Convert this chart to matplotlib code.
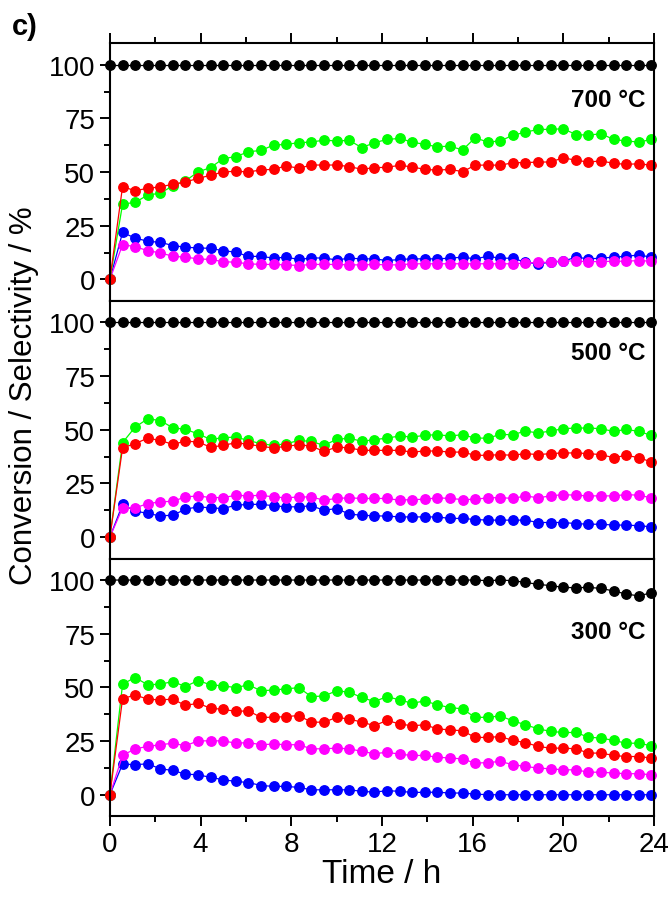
import numpy as np
import matplotlib
matplotlib.use('Agg')
import matplotlib.pyplot as plt
from matplotlib.ticker import MultipleLocator

plt.rcParams['font.family'] = ['Liberation Sans', 'DejaVu Sans']

# sampling times (h), one point every ~33 min
TIME = [0.0, 0.56, 1.11, 1.67, 2.22, 2.78, 3.33, 3.89, 4.44, 5.0, 5.56, 6.11,
        6.67, 7.22, 7.78, 8.33, 8.89, 9.44, 10.0, 10.56, 11.11, 11.67, 12.22,
        12.78, 13.33, 13.89, 14.44, 15.0, 15.56, 16.11, 16.67, 17.22, 17.78,
        18.33, 18.89, 19.44, 20.0, 20.56, 21.11, 21.67, 22.22, 22.78, 23.33, 23.89]

# 700 C
black_700 = [100, 100, 100, 100, 100, 100, 100, 100, 100, 100, 100, 100, 100, 100, 100,
             100, 100, 100, 100, 100, 100, 100, 100, 100, 100, 100, 100, 100, 100, 100,
             100, 100, 100, 100, 100, 100, 100, 100, 100, 100, 100, 100, 100, 100]
green_700 = [0, 35.1, 35.9, 39.3, 40.2, 43.6, 45.9, 50.1, 52.1, 56.3, 57.2, 59.5, 60.1,
             62.6, 62.9, 63.7, 64.0, 64.9, 64.5, 64.8, 61.4, 63.7, 65.2, 65.7, 64.0, 62.9,
             61.8, 62.1, 60.3, 66.0, 64.0, 64.5, 67.2, 68.6, 69.9, 69.9, 70.2, 67.5, 67.2,
             67.9, 65.2, 64.5, 64.0, 65.2]
red_700 = [0, 43.3, 41.3, 42.5, 43.1, 44.4, 45.4, 47.1, 48.5, 50.1, 50.4, 50.1, 51.0,
           51.3, 52.9, 51.8, 53.3, 53.3, 53.3, 52.6, 51.3, 52.1, 52.2, 53.2, 52.4, 51.3,
           50.9, 51.3, 50.2, 53.2, 53.3, 53.2, 54.4, 54.4, 54.7, 54.7, 56.7, 55.5, 54.7,
           55.2, 54.1, 53.6, 53.9, 53.2]
blue_700 = [0, 21.9, 19.3, 17.8, 17.3, 15.8, 15.0, 14.7, 14.5, 13.4, 12.7, 10.7, 10.8,
            9.9, 10.4, 9.3, 10.0, 10.0, 9.1, 9.9, 9.6, 9.6, 8.8, 9.3, 9.6, 9.6, 9.6, 9.9,
            10.4, 9.6, 10.8, 9.9, 9.9, 8.0, 7.3, 8.0, 8.5, 10.4, 9.6, 9.9, 10.4, 10.8,
            11.4, 10.4]
magenta_700 = [0, 16.2, 15.3, 13.4, 12.4, 10.8, 10.4, 9.6, 9.3, 8.3, 8.0, 7.3, 7.0, 7.0,
               6.8, 6.5, 7.0, 7.0, 7.0, 6.8, 6.8, 7.0, 6.8, 6.8, 7.3, 7.3, 7.3, 7.3, 7.3,
               7.3, 7.3, 7.3, 7.3, 7.6, 8.0, 8.0, 8.8, 8.5, 8.3, 8.3, 8.5, 8.5, 8.8, 8.5]

# 500 C
black_500 = [100, 100, 100, 100, 100, 100, 100, 100, 100, 100, 100, 100, 100, 100, 100,
             100, 100, 100, 100, 100, 100, 100, 100, 100, 100, 100, 100, 100, 100, 100,
             100, 100, 100, 100, 100, 100, 100, 100, 100, 100, 100, 100, 100, 100]
green_500 = [0, 44.0, 51.2, 55.1, 54.3, 50.9, 50.2, 48.1, 45.5, 46.3, 46.6, 45.0, 43.5,
             42.7, 43.5, 45.0, 44.6, 42.7, 45.5, 46.1, 44.6, 45.4, 46.1, 47.1, 46.6, 47.4,
             47.7, 47.1, 47.7, 46.1, 46.1, 47.8, 47.7, 49.4, 48.5, 49.4, 50.5, 50.8, 50.8,
             50.5, 49.2, 50.2, 49.2, 47.4]
red_500 = [0, 41.6, 43.5, 46.1, 45.0, 43.2, 44.7, 44.3, 41.9, 42.7, 44.0, 43.2, 42.3,
           41.5, 42.3, 43.0, 42.4, 39.9, 41.9, 41.6, 40.4, 40.4, 40.4, 40.4, 39.6, 40.1,
           40.1, 39.6, 39.6, 38.1, 38.1, 38.4, 38.1, 38.9, 38.4, 38.9, 39.2, 39.2, 38.9,
           38.4, 37.0, 38.1, 37.0, 35.0]
blue_500 = [0, 15.2, 12.2, 11.0, 9.9, 10.2, 13.0, 14.1, 13.6, 13.3, 14.9, 15.2, 15.3,
            14.6, 14.1, 14.1, 14.6, 12.5, 13.3, 10.7, 10.2, 9.9, 9.8, 9.4, 9.4, 9.4, 9.4,
            8.7, 8.7, 8.2, 7.9, 7.9, 7.9, 7.9, 6.8, 6.8, 6.8, 6.3, 6.0, 6.0, 5.6, 5.6,
            5.3, 4.8]
magenta_500 = [0, 13.6, 13.6, 15.6, 16.4, 16.7, 18.7, 19.2, 18.4, 18.4, 19.5, 19.2, 19.5,
               18.7, 18.3, 18.7, 18.7, 17.2, 18.0, 18.3, 18.0, 18.0, 18.0, 17.2, 17.5,
               17.6, 18.3, 18.0, 17.5, 17.6, 18.3, 18.4, 18.0, 19.2, 18.3, 19.2, 19.8,
               19.5, 19.2, 19.2, 19.2, 19.8, 19.5, 18.3]

# 300 C
black_300 = [100, 100, 100, 100, 100, 100, 100, 100, 100, 100, 100, 100, 100, 100, 100,
             100, 100, 100, 100, 100, 100, 100, 100, 100, 100, 100, 100, 100, 100, 100,
             99.7, 100, 99.7, 98.9, 98.0, 97.4, 96.6, 96.4, 96.6, 96.1, 94.9, 93.5, 92.6, 94.1]
green_300 = [0, 51.5, 54.6, 51.2, 51.5, 52.7, 50.4, 53.2, 51.2, 50.7, 49.9, 51.2, 48.4,
             48.8, 49.3, 49.9, 45.7, 46.0, 48.4, 47.8, 45.3, 43.4, 45.7, 44.2, 42.6, 43.7,
             41.9, 40.6, 40.0, 36.0, 36.1, 36.7, 34.4, 32.6, 30.7, 29.5, 29.0, 29.0, 26.8,
             26.4, 25.3, 24.0, 24.0, 22.8]
red_300 = [0, 44.7, 46.5, 44.5, 44.2, 44.5, 41.6, 42.6, 40.3, 39.8, 38.8, 39.1, 36.0,
           36.1, 36.4, 36.9, 33.8, 33.8, 36.0, 35.3, 33.8, 32.2, 34.6, 33.0, 32.1, 32.6,
           30.7, 30.2, 29.8, 26.7, 26.7, 27.1, 25.3, 24.3, 22.5, 21.7, 21.7, 21.4, 19.4,
           19.4, 18.3, 17.8, 17.8, 17.1]
blue_300 = [0, 14.3, 14.0, 14.4, 12.1, 11.3, 9.6, 9.3, 8.1, 7.0, 6.2, 5.7, 4.3, 3.9, 3.9,
            3.4, 2.3, 2.3, 2.3, 2.3, 1.6, 1.2, 1.9, 1.6, 1.1, 1.1, 1.2, 0.8, 0.8, 0.3, 0,
            0, 0, 0, 0, 0, 0, 0, 0, 0, 0, 0, 0, 0]
magenta_300 = [0, 18.3, 21.4, 22.5, 23.3, 24.0, 22.8, 25.1, 25.1, 25.1, 24.0, 24.3, 23.3,
               23.6, 23.3, 23.3, 21.4, 21.4, 21.7, 21.4, 20.2, 19.1, 19.8, 18.9, 18.3,
               18.3, 17.5, 17.1, 16.7, 14.7, 15.0, 15.5, 14.0, 13.2, 12.4, 12.1, 11.6,
               11.6, 10.5, 10.5, 10.1, 9.8, 9.8, 9.3]

PANELS = [
    ('700 °C', 84, [black_700, blue_700, magenta_700, green_700, red_700]),
    ('500 °C', 86, [black_500, blue_500, magenta_500, green_500, red_500]),
    ('300 °C', 76, [black_300, blue_300, magenta_300, green_300, red_300]),
]
COLORS = ['#000000', '#0000ff', '#ff00ff', '#00ff00', '#ff0000']


fig, axes = plt.subplots(3, 1, figsize=(6.7, 9.04), dpi=100, sharex=True)
fig.subplots_adjust(left=0.164, right=0.976, top=0.951, bottom=0.096, hspace=0)

for i, (ax, (label, label_y, series)) in enumerate(zip(axes, PANELS)):
    for values, color in zip(series, COLORS):
        ax.plot(TIME, values, '-', color=color, lw=0.9, marker='o', ms=6.8,
                mec=color, mfc=color, clip_on=False)
    ax.set_xlim(0, 24)
    ax.set_ylim(-10, 110)
    ax.yaxis.set_major_locator(MultipleLocator(25))
    ax.yaxis.set_minor_locator(MultipleLocator(12.5))
    ax.xaxis.set_major_locator(MultipleLocator(4))
    ax.xaxis.set_minor_locator(MultipleLocator(2))
    ax.tick_params(which='both', direction='out', width=1.4, labelsize=20,
                   top=(i == 0), right=False)
    ax.tick_params(which='major', length=7)
    ax.tick_params(which='minor', length=4)
    for sp in ax.spines.values():
        sp.set_linewidth(1.5)
    ax.text(0.985, label_y, label, transform=ax.get_yaxis_transform(),
            ha='right', va='center', fontsize=17.5, fontweight='bold')

axes[-1].set_xlabel('Time / h', fontsize=24, labelpad=1)
fig.text(0.036, 0.562, 'Conversion / Selectivity / %', rotation=90,
         ha='center', va='center', fontsize=22.5)
fig.text(0.017, 0.97, 'c)', ha='left', va='center', fontsize=21, fontweight='bold')

plt.savefig('out.png', dpi=100)
